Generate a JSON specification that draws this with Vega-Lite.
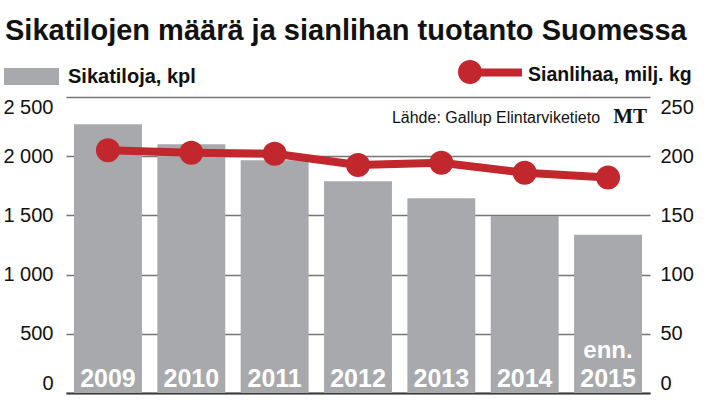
{
  "$schema": "https://vega.github.io/schema/vega-lite/v6.json",
  "width": 584,
  "height": 296,
  "autosize": {"type": "none"},
  "padding": {"left": 66, "top": 97, "right": 58, "bottom": 11},
  "background": "white",
  "title": {
    "text": "Sikatilojen määrä ja sianlihan tuotanto Suomessa",
    "anchor": "start",
    "frame": "group",
    "dx": -61,
    "dy": 34,
    "offset": 8,
    "baseline": "alphabetic",
    "font": "Liberation Sans",
    "fontSize": 29,
    "fontWeight": "bold",
    "color": "#111111"
  },
  "data": {
    "values": [
      {"year": "2009", "tilat": 2270, "liha": 205, "note": ""},
      {"year": "2010", "tilat": 2100, "liha": 203, "note": ""},
      {"year": "2011", "tilat": 1965, "liha": 202, "note": ""},
      {"year": "2012", "tilat": 1788, "liha": 192.6, "note": ""},
      {"year": "2013", "tilat": 1644, "liha": 194.5, "note": ""},
      {"year": "2014", "tilat": 1495, "liha": 186, "note": ""},
      {"year": "2015", "tilat": 1337, "liha": 182, "note": "enn."}
    ]
  },
  "encoding": {
    "x": {
      "field": "year",
      "type": "nominal",
      "sort": null,
      "scale": {"paddingInner": 0.185, "paddingOuter": 0.096},
      "axis": {"title": null, "labels": false, "ticks": false, "domain": true, "domainColor": "#3c3c3c", "domainWidth": 2, "grid": false}
    }
  },
  "layer": [
    {
      "layer": [
        {
          "mark": {"type": "bar"},
          "encoding": {
            "y": {
              "field": "tilat",
              "type": "quantitative",
              "scale": {"domain": [0, 2500], "nice": false},
              "axis": {
                "title": null,
                "values": [0, 500, 1000, 1500, 2000, 2500],
                "labelExpr": "replace(format(datum.value, ','), ',', ' ')",
                "labelFont": "Liberation Sans",
                "labelFontSize": 20,
                "labelColor": "#111111",
                "labelPadding": 13,
                "labelFlush": true,
                "ticks": false,
                "domain": false,
                "grid": true,
                "gridColor": "#767676",
                "gridWidth": 1.5
              }
            },
            "color": {
              "datum": "Sikatiloja, kpl",
              "type": "nominal",
              "scale": {"range": ["#a7a9ac"]},
              "legend": {
                "title": null,
                "orient": "none",
                "legendX": -62,
                "legendY": -48,
                "padding": 0,
                "symbolType": "M-1,-0.31H1V0.31H-1Z",
                "symbolSize": 3025,
                "symbolStrokeWidth": 0,
                "labelFont": "Liberation Sans",
                "labelFontWeight": "bold",
                "labelFontSize": 20,
                "labelColor": "#111111",
                "labelOffset": 9,
                "labelLimit": 300
              }
            }
          }
        },
        {
          "mark": {"type": "text", "font": "Liberation Sans", "fontWeight": "bold", "fontSize": 25, "color": "white", "baseline": "alphabetic", "dy": -6},
          "encoding": {"y": {"datum": 0, "type": "quantitative"}, "text": {"field": "year"}}
        },
        {
          "mark": {"type": "text", "font": "Liberation Sans", "fontWeight": "bold", "fontSize": 24, "color": "white", "baseline": "alphabetic", "dy": -35},
          "encoding": {"y": {"datum": 0, "type": "quantitative"}, "text": {"field": "note"}}
        },
        {
          "data": {"values": [{"src": "Lähde: Gallup Elintarviketieto", "mt": "MT"}]},
          "mark": {"type": "text", "font": "Liberation Sans", "fontSize": 16, "color": "#111111", "align": "right", "baseline": "alphabetic", "dx": -8, "dy": 26},
          "encoding": {"x": {"datum": "2015"}, "y": {"datum": 2500, "type": "quantitative"}, "text": {"field": "src"}}
        },
        {
          "data": {"values": [{"src": "Lähde: Gallup Elintarviketieto", "mt": "MT"}]},
          "mark": {"type": "text", "font": "Liberation Serif", "fontWeight": "bold", "fontSize": 21, "color": "#111111", "align": "right", "baseline": "alphabetic", "dx": 39, "dy": 26},
          "encoding": {"x": {"datum": "2015"}, "y": {"datum": 2500, "type": "quantitative"}, "text": {"field": "mt"}}
        }
      ]
    },
    {
      "layer": [
        {
          "mark": {"type": "line", "color": "#c1272d", "strokeWidth": 8},
          "encoding": {
            "y": {
              "field": "liha",
              "type": "quantitative",
              "scale": {"domain": [0, 250], "nice": false},
              "axis": {
                "orient": "right",
                "title": null,
                "values": [0, 50, 100, 150, 200, 250],
                "labelFont": "Liberation Sans",
                "labelFontSize": 20,
                "labelColor": "#111111",
                "labelPadding": 10,
                "labelFlush": true,
                "ticks": false,
                "domain": false,
                "grid": false
              }
            }
          }
        },
        {
          "mark": {"type": "circle", "size": 576, "opacity": 1},
          "encoding": {
            "y": {"field": "liha", "type": "quantitative"},
            "color": {
              "datum": "Sianlihaa, milj. kg",
              "type": "nominal",
              "scale": {"range": ["#c1272d"]},
              "legend": {
                "title": null,
                "orient": "none",
                "legendX": 392,
                "legendY": -54,
                "padding": 0,
                "symbolType": "M-1,-0.09A0.375,0.375,0,1,1,-0.25,-0.09A0.375,0.375,0,1,1,-1,-0.09Z M-0.625,-0.2H1V0.05H-0.625Z",
                "symbolSize": 4096,
                "symbolStrokeWidth": 0,
                "symbolOpacity": 1,
                "labelFont": "Liberation Sans",
                "labelFontWeight": "bold",
                "labelFontSize": 19.5,
                "labelColor": "#111111",
                "labelOffset": 6,
                "labelLimit": 300
              }
            }
          }
        }
      ]
    }
  ],
  "resolve": {"scale": {"y": "independent", "color": "independent"}, "legend": {"color": "independent"}},
  "config": {"view": {"stroke": null}}
}
